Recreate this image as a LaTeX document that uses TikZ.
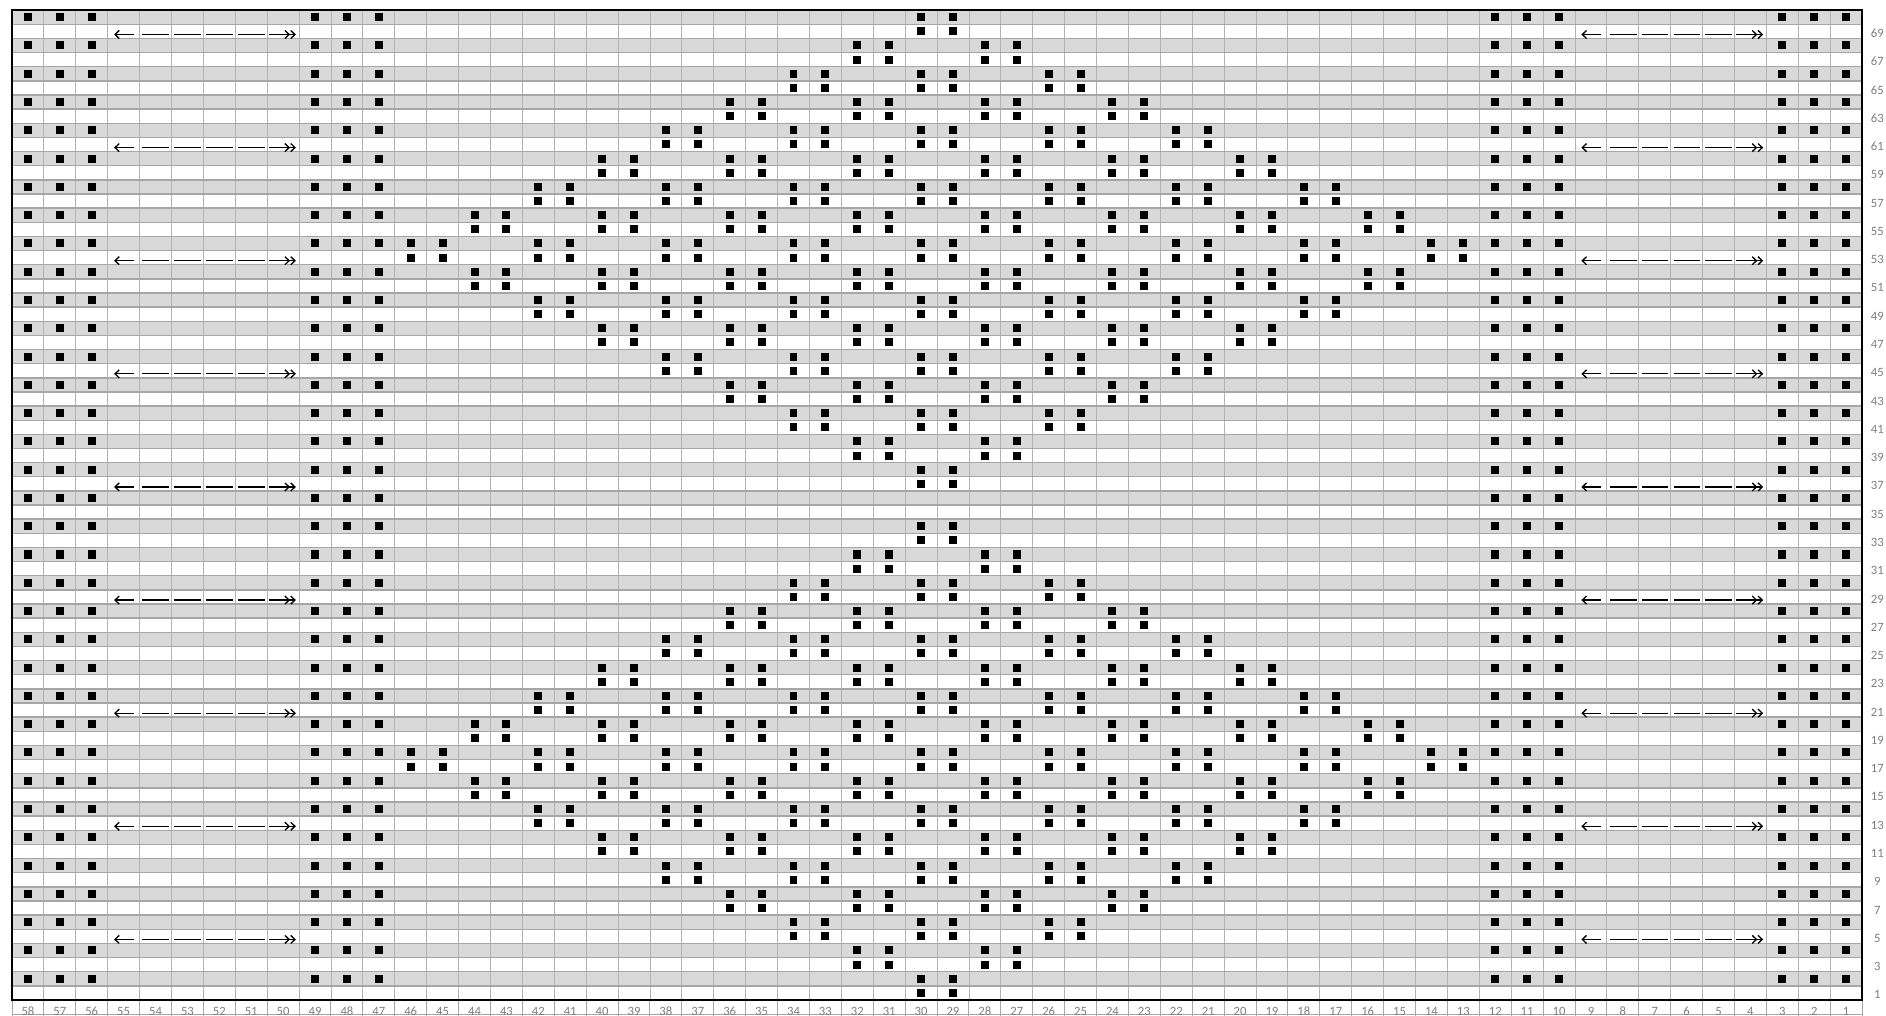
\documentclass[tikz,border=0pt]{standalone}
\usepackage{fontspec}
\setmainfont{Carlito}
\usetikzlibrary{arrows.meta}
\definecolor{rowgray}{HTML}{D9D9D9}
\definecolor{linegray}{HTML}{A6A6A6}
\definecolor{labelgray}{HTML}{7F7F7F}
\newcommand{\purl}[2]{\fill (58.375-#1,#2-0.78) rectangle ++(0.25,0.566);}
\newcommand{\slipwork}[2]{%
  \draw[slipline,<-] (#1+0.2,#2-0.72) -- (#1+0.83,#2-0.72);
  \foreach \k in {1,...,4}{
    \draw[slipline] (#1+\k+0.09,#2-0.72) -- (#1+\k+0.93,#2-0.72);}
  \draw[slipline,->>] (#1+5.05,#2-0.72) -- (#1+5.9,#2-0.72);}
\begin{document}
\begin{tikzpicture}[x=0.638cm,y=0.2828cm,>={Straight Barb[length=2.4pt,width=4.6pt]},
    labeltxt/.style={text=labelgray,font=\fontsize{7.2}{8}\selectfont,anchor=base,inner sep=0pt},
    slipline/.style={line width=0.75pt}]
  \useasboundingbox (-0.376,-1.13) rectangle (58.75,70.72);
  \fill[white] (-0.376,-1.13) rectangle (58.75,70.72);
  \foreach \r in {2,4,...,70}
    \fill[rowgray] (0,\r-1) rectangle (58,\r);
  \foreach \i in {1,...,57}
    \draw[linegray!85,line width=0.5pt] (\i,0) -- (\i,70);
  \foreach \r in {1,...,69}
    \draw[linegray,line width=0.8pt] (0,\r) -- (58,\r);
  \foreach \i in {0,...,58}
    \draw[linegray,line width=0.55pt] (\i,0) -- (\i,-1.13);
  \draw[linegray,line width=0.55pt] (0,-1.06) -- (58,-1.06);
  \draw[line width=1.2pt] (0,0) rectangle (58,70);
  \foreach \c in {58,57,56,49,48,47,12,11,10,3,2,1}{
    \foreach \r in {2,4,...,70}{
      \purl{\c}{\r}
    }
  }
  \foreach \q in {1,...,35}{
    \foreach \p in {0,...,16}{
      \pgfmathtruncatemacro\show{isodd(\p+\q) && ((abs(\p-8)+abs(\q-9)<9) || (abs(\p-8)+abs(\q-27)<9))}
      \ifnum\show=1
        \pgfmathtruncatemacro\ca{46-2*\p}
        \pgfmathtruncatemacro\cb{45-2*\p}
        \pgfmathtruncatemacro\ra{2*\q}
        \pgfmathtruncatemacro\rb{2*\q-1}
        \purl{\ca}{\ra}
        \purl{\cb}{\ra}
        \purl{\ca}{\rb}
        \purl{\cb}{\rb}
      \fi
    }
  }
  \foreach \r in {5,13,...,69}{
    \slipwork{3}{\r}
    \slipwork{49}{\r}
  }
  \foreach \r in {1,3,...,69}
    \node[labeltxt] at (58.48,\r-0.93) {\r};
  \foreach \c in {1,...,58}
    \node[labeltxt] at (58.5-\c,-1.11) {\c};
\end{tikzpicture}
\end{document}
